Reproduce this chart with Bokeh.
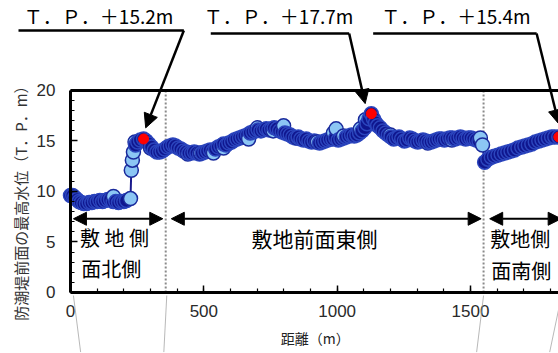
from bokeh.plotting import figure
from bokeh.models import (Label, Arrow, NormalHead, LinearAxis, FixedTicker,
                          SingleIntervalTicker, Range1d, ColumnDataSource)
from bokeh.embed import file_html
from bokeh.resources import INLINE

# ---- data (distance along seawall [m], max water level [T.P. m]) ----
dist = [0, 8, 16, 24, 32, 40, 50, 60, 70, 80, 90, 100, 110, 120, 130, 140, 150, 160, 170, 180,
        190, 200, 210,
        244, 252, 262, 274, 284, 294, 304, 314, 324, 334, 344, 354, 364, 374, 384, 394, 404, 414,
        424, 434, 444, 454, 464, 474, 484, 494, 504, 514, 524, 534, 544, 554, 564, 574, 584, 594,
        604, 614, 624, 634, 644, 654, 664, 674, 684, 694, 704, 714, 724, 734, 744, 754, 764, 774,
        784, 794, 804, 814, 824, 834, 844, 854, 864, 874, 884, 894, 904, 914, 924, 934, 944, 954,
        964, 974, 984, 994, 1004, 1014, 1024, 1034, 1044, 1054, 1064, 1074, 1084, 1094, 1104, 1112,
        1120, 1128, 1136, 1144, 1152, 1162, 1172, 1182, 1192, 1202, 1212, 1222, 1232, 1242, 1252,
        1262, 1272, 1282, 1292, 1302, 1312, 1322, 1332, 1342, 1352, 1362, 1372, 1382, 1392, 1402,
        1412, 1422, 1432, 1442, 1452, 1462, 1472, 1482, 1492, 1502, 1512, 1522, 1532,
        1553, 1565, 1578, 1590, 1603, 1615, 1628, 1640, 1652, 1665, 1678, 1692, 1704, 1717, 1730,
        1743, 1756, 1768, 1780, 1792, 1804, 1816, 1831]
level = [9.6, 9.6, 9.4, 9.2, 9.0, 8.9, 8.8, 8.8, 8.9, 8.9, 9.0, 9.0, 9.1, 9.0, 9.1, 9.2, 9.2, 9.0, 9.0, 8.9,
         9.0, 9.0, 9.1,
         14.6, 14.9, 15.1, 15.2, 15.0, 14.7, 14.4, 14.1, 13.9, 13.9, 14.0, 14.2, 14.4, 14.5, 14.6, 14.5, 14.3, 14.2,
         14.0, 13.9, 13.8, 13.8, 13.9, 13.8, 13.7, 13.8, 13.9, 14.0, 14.1, 14.0, 14.2, 14.4, 14.5, 14.7, 14.6, 14.8,
         14.9, 15.1, 15.2, 15.3, 15.4, 15.5, 15.6, 15.8, 15.9, 16.0, 16.1, 16.0, 16.1, 16.2, 16.1, 16.2, 16.3, 16.2,
         16.0, 15.9, 15.8, 15.7, 15.6, 15.4, 15.3, 15.4, 15.2, 15.1, 15.2, 15.0, 14.9, 15.0, 14.9, 14.8, 14.9, 15.0,
         15.1, 15.2, 15.2, 15.3, 15.1, 15.2, 15.3, 15.4, 15.5, 15.6, 15.5, 15.6, 15.8, 16.0, 16.3, 16.7,
         17.2, 17.7, 17.2, 16.8, 16.5, 16.3, 16.0, 15.8, 15.6, 15.4, 15.2, 15.3, 15.4, 15.2, 15.0,
         15.1, 15.3, 15.2, 15.0, 14.9, 15.0, 15.1, 15.0, 14.9, 14.9, 15.0, 15.1, 15.2, 15.2, 15.1,
         15.2, 15.3, 15.3, 15.2, 15.3, 15.4, 15.3, 15.2, 15.3, 15.3, 15.2, 15.1, 15.0,
         12.9, 13.2, 13.4, 13.5, 13.6, 13.7, 13.8, 13.9, 14.0, 14.1, 14.3, 14.4, 14.5, 14.6, 14.7,
         14.9, 15.0, 15.1, 15.2, 15.3, 15.4, 15.4, 15.4]

# light-blue marked points (interleaved in the same profile)
dist_b = [161, 225, 228, 232, 236, 242, 300, 440, 488, 536, 574, 668, 701, 760, 799, 851, 926,
          986, 996, 1024, 1087, 1106, 1200, 1340, 1430, 1537, 1545]
level_b = [9.5, 9.3, 12.1, 13.1, 13.9, 14.9, 14.3, 13.7, 13.8, 13.8, 14.3, 15.2, 16.3, 16.0, 16.5, 15.3, 14.9,
           15.8, 16.2, 15.5, 16.2, 17.1, 15.6, 14.8, 15.1, 15.3, 14.6]

# maxima per section
peak_dist = [274, 1128, 1831]
peak_level = [15.2, 17.7, 15.4]

section_bounds = [357, 1549]
section_names = [["敷 地 側", "面北側"], ["敷地前面東側"], ["敷地側", "面南側"]]

x_title = "距離（m）"
y_title = "防潮堤前面の最高水位（T．P．m）"

Y_MIN, Y_MAX = 0, 20
X_MIN, X_END = 0, 1830

CJK = "Noto Sans CJK JP"
NAVY_FILL, NAVY_EDGE = "#0f168e", "#2b45bd"
LIGHT_FILL, LIGHT_EDGE = "#8cc6f4", "#1a2a9c"

# merge both kinds of points in distance order (drawn left to right)
pts = sorted([(d, v, 0) for d, v in zip(dist, level)] + [(d, v, 1) for d, v in zip(dist_b, level_b)])
src = ColumnDataSource(dict(
    x=[q[0] for q in pts], y=[q[1] for q in pts],
    fill=[LIGHT_FILL if q[2] else NAVY_FILL for q in pts],
    edge=[LIGHT_EDGE if q[2] else NAVY_EDGE for q in pts]))

# the frame spans the whole canvas; axes sit at fixed data locations
p = figure(width=558, height=353, x_range=Range1d(-262.5, 1830), y_range=Range1d(-6.04, 28.91),
           output_backend="svg", toolbar_location=None,
           min_border_left=0, min_border_right=0, min_border_top=0, min_border_bottom=0)
p.grid.visible = False
p.outline_line_color = None
p.background_fill_color = "white"
p.border_fill_color = "white"

xa, ya = p.xaxis[0], p.yaxis[0]
xa.fixed_location = Y_MIN
ya.fixed_location = X_MIN
xa.bounds = (X_MIN, X_END)
ya.bounds = (Y_MIN, Y_MAX)
for ax in (xa, ya):
    ax.axis_line_width = 3
    ax.axis_line_color = "black"
    ax.major_tick_in = 7
    ax.major_tick_out = 0
    ax.minor_tick_in = 4
    ax.minor_tick_out = 0
    ax.major_tick_line_width = 1.5
    ax.minor_tick_line_width = 1.2
    ax.major_label_text_font = "Liberation Sans"
    ax.major_label_text_font_size = "17px"
    ax.major_label_text_color = "#2a2a2a"

xa.ticker = SingleIntervalTicker(interval=500, num_minor_ticks=5)
ya.ticker = SingleIntervalTicker(interval=5, num_minor_ticks=5)
xa.major_label_standoff = 13
ya.major_label_standoff = 15

top = LinearAxis(ticker=FixedTicker(ticks=[]), fixed_location=Y_MAX, bounds=(X_MIN, X_END),
                 axis_line_width=3, axis_line_color="black",
                 major_tick_line_color=None, minor_tick_line_color=None,
                 major_label_text_font_size="0px")
p.add_layout(top, "above")

# section boundaries (dotted)
p.segment(x0=section_bounds, y0=[Y_MIN] * 2, x1=section_bounds, y1=[Y_MAX] * 2,
          line_color="#8a8a8a", line_width=2, line_dash="2 2")

# data series
p.line("x", "y", source=src, line_color="#1a1a8c", line_width=2)
p.scatter("x", "y", source=src, size=14, fill_color="fill", line_color="edge", line_width=1.5)
p.scatter(peak_dist, peak_level, size=10, fill_color="#ff0000", line_color="#ff0000")

# section arrows + names
arrow_y = 7.3
sec_arrows = [(11, 346), (378, 1540), (1572, 1840)]
for (a, b) in sec_arrows:
    p.add_layout(Arrow(start=NormalHead(size=13, fill_color="black", line_color="black"),
                       end=NormalHead(size=13, fill_color="black", line_color="black"),
                       x_start=a, y_start=arrow_y, x_end=b, y_end=arrow_y,
                       line_width=2, line_color="black"))

p.add_layout(Label(x=36, y=5.45, text=section_names[0][0], text_font=CJK, text_font_size="20px",
                   text_align="left", text_baseline="middle", text_color="black"))
p.add_layout(Label(x=40, y=2.35, text=section_names[0][1], text_font=CJK, text_font_size="20px",
                   text_align="left", text_baseline="middle", text_color="black"))
p.add_layout(Label(x=915, y=5.35, text=section_names[1][0], text_font=CJK, text_font_size="21px",
                   text_align="center", text_baseline="middle", text_color="black"))
p.add_layout(Label(x=1574, y=5.35, text=section_names[2][0], text_font=CJK, text_font_size="20px",
                   text_align="left", text_baseline="middle", text_color="black"))
p.add_layout(Label(x=1578, y=2.2, text=section_names[2][1], text_font=CJK, text_font_size="20px",
                   text_align="left", text_baseline="middle", text_color="black"))

# callouts for maxima
call_text_x = [-175, 500, 1165]
call_line = [(-195, 425), (526, 1045), (1135, 1748)]
call_line_y = [25.94, 25.64, 25.64]
call_tip = [(282, 16.3), (1105, 18.7), (1831, 16.7)]
for i in range(3):
    p.add_layout(Label(x=call_text_x[i], y=27.4, text="Ｔ．Ｐ．＋%.1fm" % peak_level[i],
                       text_font=CJK, text_font_size="19px", text_align="left",
                       text_baseline="middle", text_color="black"))
    x0, x1 = call_line[i]
    p.add_layout(Arrow(end=None, x_start=x0, y_start=call_line_y[i], x_end=x1, y_end=call_line_y[i],
                       line_width=2.5, line_color="black"))
    p.add_layout(Arrow(end=NormalHead(size=14, fill_color="black", line_color="black"),
                       x_start=x1, y_start=call_line_y[i], x_end=call_tip[i][0], y_end=call_tip[i][1],
                       line_width=2.5, line_color="black"))

# faint leader lines below the axis
faint = [((11, -0.3), (38, -5.9)), ((361, -0.3), (350, -5.9)),
         ((1549, -0.3), (1523, -5.9)), ((1835, -1.1), (1797, -5.9))]
for (s, e) in faint:
    p.add_layout(Arrow(end=None, x_start=s[0], y_start=s[1], x_end=e[0], y_end=e[1],
                       line_width=0.7, line_color="#9a9a9a"))

# axis titles
p.add_layout(Label(x=918, y=-4.55, text=x_title, text_font=CJK, text_font_size="14px",
                   text_align="center", text_baseline="middle", text_color="#222222"))
p.add_layout(Label(x=-187, y=9.2, text=y_title, text_font=CJK, text_font_size="15px",
                   angle=1.5707963, text_align="center", text_baseline="middle", text_color="#333333"))

open("out.html", "w").write(file_html(p, INLINE))
